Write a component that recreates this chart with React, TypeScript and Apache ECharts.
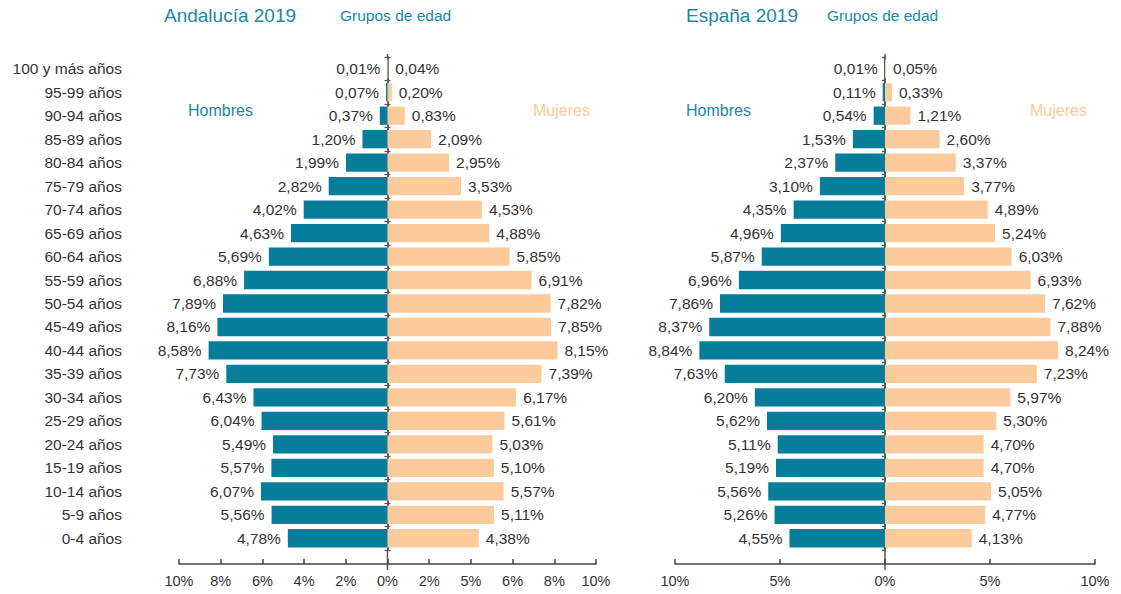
import React, { useEffect, useRef } from "react";
import * as echarts from "echarts";

const ageGroups = [
  "100 y más años", "95-99 años", "90-94 años", "85-89 años", "80-84 años",
  "75-79 años", "70-74 años", "65-69 años", "60-64 años", "55-59 años",
  "50-54 años", "45-49 años", "40-44 años", "35-39 años", "30-34 años",
  "25-29 años", "20-24 años", "15-19 años", "10-14 años", "5-9 años", "0-4 años",
];
const andaluciaMen = [0.01, 0.07, 0.37, 1.2, 1.99, 2.82, 4.02, 4.63, 5.69, 6.88, 7.89, 8.16, 8.58, 7.73, 6.43, 6.04, 5.49, 5.57, 6.07, 5.56, 4.78];
const andaluciaWomen = [0.04, 0.2, 0.83, 2.09, 2.95, 3.53, 4.53, 4.88, 5.85, 6.91, 7.82, 7.85, 8.15, 7.39, 6.17, 5.61, 5.03, 5.1, 5.57, 5.11, 4.38];
const espanaMen = [0.01, 0.11, 0.54, 1.53, 2.37, 3.1, 4.35, 4.96, 5.87, 6.96, 7.86, 8.37, 8.84, 7.63, 6.2, 5.62, 5.11, 5.19, 5.56, 5.26, 4.55];
const espanaWomen = [0.05, 0.33, 1.21, 2.6, 3.37, 3.77, 4.89, 5.24, 6.03, 6.93, 7.62, 7.88, 8.24, 7.23, 5.97, 5.3, 4.7, 4.7, 5.05, 4.77, 4.13];
const andaluciaTickLabels = ["10%", "8%", "6%", "4%", "2%", "0%", "2%", "5%", "6%", "8%", "10%"];
const espanaTickLabels = ["10%", "5%", "0%", "5%", "10%"];

const FONT = "'Liberation Sans', Arial, sans-serif";
const MALE = "#067e9b";
const FEMALE = "#fdca9b";
const TEAL_TEXT = "#2088a4";
const PEACH_TEXT = "#fbc996";
const TEXT = "#333333";
const AXIS = "#555555";

const GRID_TOP = 57;
const GRID_H = 493;

function fmt(v: number) {
  return Math.abs(v).toFixed(2).replace(".", ",") + "%";
}

export default function App() {
  const ref = useRef<HTMLDivElement>(null);
  useEffect(() => {
    document.body.style.margin = "0";
    const chart = echarts.init(ref.current!, null, { renderer: "svg" });

    const valueAxis = (gridIndex: number, interval: number, labels: string[]) => ({
      type: "value",
      gridIndex,
      min: -10,
      max: 10,
      interval,
      offset: 14,
      splitLine: { show: false },
      axisLine: { show: true, onZero: false, lineStyle: { color: "#444", width: 1.5 } },
      axisTick: { show: true, inside: true, length: 5, lineStyle: { color: "#444", width: 1.5 } },
      axisLabel: {
        color: TEXT,
        fontSize: 14.5,
        fontFamily: FONT,
        margin: 9,
        formatter: (v: number) => labels[Math.round((v + 10) / interval)] ?? "",
      },
    });

    const tickAxis = (gridIndex: number, xIndex: number, inside: boolean) => ({
      type: "category",
      gridIndex,
      inverse: true,
      data: ageGroups,
      axisLine: { show: true, onZero: true, onZeroAxisIndex: xIndex, lineStyle: { color: AXIS, width: 1.5 } },
      axisTick: { show: true, inside, length: 3, lineStyle: { color: AXIS, width: 1.2 } },
      axisLabel: { show: false },
      splitLine: { show: false },
    });

    const barSeries = (
      name: string, data: number[], xIndex: number, yIndex: number, stack: string, color: string, pos: string
    ) => ({
      type: "bar",
      name,
      data,
      xAxisIndex: xIndex,
      yAxisIndex: yIndex,
      stack,
      barCategoryGap: "22%",
      itemStyle: { color },
      label: {
        show: true,
        position: pos,
        distance: 7,
        color: TEXT,
        fontSize: 15.5,
        fontFamily: FONT,
        formatter: (p: any) => fmt(p.value),
      },
    });

    const texts = [
      { x: 164, y: 6, text: "Andalucía 2019", size: 19, color: TEAL_TEXT },
      { x: 340, y: 7, text: "Grupos de edad", size: 15.5, color: TEAL_TEXT },
      { x: 188, y: 102, text: "Hombres", size: 16, color: TEAL_TEXT },
      { x: 533, y: 102, text: "Mujeres", size: 16, color: PEACH_TEXT },
      { x: 686, y: 6, text: "España 2019", size: 19, color: TEAL_TEXT },
      { x: 827, y: 7, text: "Grupos de edad", size: 15.5, color: TEAL_TEXT },
      { x: 686, y: 102, text: "Hombres", size: 16, color: TEAL_TEXT },
      { x: 1030, y: 102, text: "Mujeres", size: 16, color: PEACH_TEXT },
    ];

    const option: any = {
      animation: false,
      grid: [
        { left: 179, width: 417, top: GRID_TOP, height: GRID_H },
        { left: 675, width: 420, top: GRID_TOP, height: GRID_H },
      ],
      xAxis: [valueAxis(0, 2, andaluciaTickLabels), valueAxis(1, 5, espanaTickLabels)],
      yAxis: [
        {
          type: "category",
          gridIndex: 0,
          inverse: true,
          data: ageGroups,
          axisLine: { show: false, onZero: false },
          axisTick: { show: false },
          axisLabel: { color: TEXT, fontSize: 15.5, fontFamily: FONT, margin: 57 },
        },
        tickAxis(0, 0, false),
        tickAxis(0, 0, true),
        tickAxis(1, 1, false),
        tickAxis(1, 1, true),
      ],
      series: [
        barSeries("Hombres", andaluciaMen.map((v) => -v), 0, 0, "a", MALE, "left"),
        barSeries("Mujeres", andaluciaWomen, 0, 0, "a", FEMALE, "right"),
        barSeries("Hombres", espanaMen.map((v) => -v), 1, 3, "b", MALE, "left"),
        barSeries("Mujeres", espanaWomen, 1, 3, "b", FEMALE, "right"),
      ],
      graphic: texts.map((t) => ({
        type: "text",
        left: t.x,
        top: t.y,
        style: { text: t.text, fill: t.color, fontSize: t.size, fontFamily: FONT },
      })),
    };
    chart.setOption(option);

    const x0 = chart.convertToPixel({ xAxisIndex: 0 }, 0) as number;
    const x1 = chart.convertToPixel({ xAxisIndex: 1 }, 0) as number;
    const ext: any[] = [];
    [x0, x1].forEach((x) => {
      ext.push({
        type: "line",
        shape: { x1: x, y1: GRID_TOP - 3, x2: x, y2: GRID_TOP },
        style: { stroke: AXIS, lineWidth: 1.5 },
      });
      ext.push({
        type: "line",
        shape: { x1: x, y1: GRID_TOP + GRID_H, x2: x, y2: GRID_TOP + GRID_H + 20 },
        style: { stroke: AXIS, lineWidth: 1.5 },
      });
    });
    chart.setOption({ graphic: [...option.graphic, ...ext] });

    return () => chart.dispose();
  }, []);
  return <div ref={ref} style={{ width: 1121, height: 594 }} />;
}
